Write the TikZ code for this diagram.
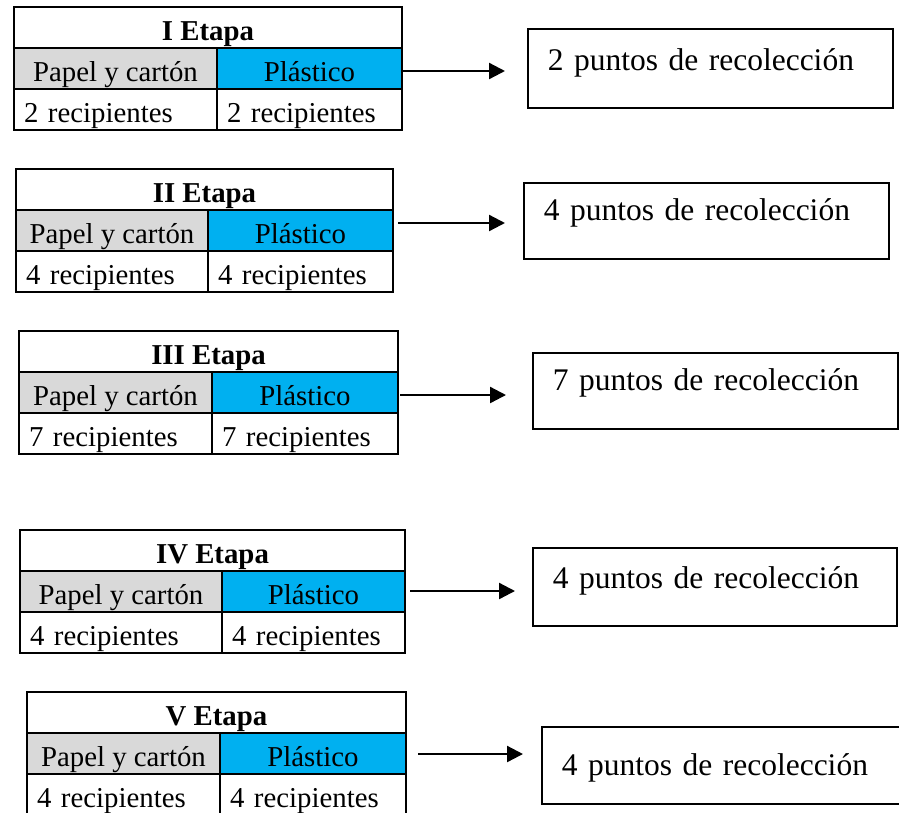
\documentclass[tikz,border=0pt]{standalone}
\usepackage{fontspec}
\setmainfont{Liberation Serif}
\usetikzlibrary{arrows.meta}
\definecolor{grisc}{HTML}{D9D9D9}
\definecolor{azulc}{HTML}{00B0F0}
\newcommand\tabfont{\fontsize{28.8pt}{34pt}\selectfont}
\newcommand\cajafont{\fontsize{31.5pt}{38pt}\selectfont}
\tikzset{
  cell/.style={draw=black, line width=2pt, anchor=north west, inner sep=0pt,
    text height=33pt, text depth=8pt, font=\tabfont},
  caja/.style={draw=black, line width=1.7pt, anchor=north west, inner ysep=0pt,
    align=left, font=\cajafont},
  arr/.style={line width=2.3pt, -{Triangle[length=16pt,width=16pt]}}
}
% #1 id, #2 left, #3 divider, #4 right, #5 top, #6 roman, #7 number
\newcommand\etapa[7]{%
  \pgfmathsetmacro\etWa{#3-#2}\pgfmathsetmacro\etWb{#4-#3}\pgfmathsetmacro\etWt{#4-#2}%
  \pgfmathsetmacro\etYa{#5+41}\pgfmathsetmacro\etYb{#5+82}%
  \pgfmathsetmacro\etTa{#3-#2-20}\pgfmathsetmacro\etTb{#4-#3-20}%
  \node[cell, font=\tabfont\bfseries, minimum width=\etWt pt] (hdr#1) at (#2,#5) {#6 Etapa};
  \node[cell, fill=grisc, minimum width=\etWa pt] (pap#1) at (#2,\etYa) {Papel y cartón};
  \node[cell, fill=azulc, minimum width=\etWb pt] (pla#1) at (#3,\etYa) {Plástico};
  \node[cell, inner xsep=10pt, text width=\etTa pt, align=left] (ra#1) at (#2,\etYb) {#7 recipientes};
  \node[cell, inner xsep=10pt, text width=\etTb pt, align=left] (rb#1) at (#3,\etYb) {#7 recipientes};
}
% #1 id, #2 left, #3 top, #4 right, #5 bottom, #6 baseline offset, #7 text
\newcommand\caja[7]{%
  \pgfmathsetmacro\cjW{#4-#2-40}\pgfmathsetmacro\cjD{#5-#3-#6}%
  \node[caja, inner xsep=20pt, text width=\cjW pt, text height=#6pt, text depth=\cjD pt] (box#1) at (#2,#3) {#7};
}
\begin{document}
\begin{tikzpicture}[x=1pt,y=-1pt]
\useasboundingbox (0,0) rectangle (899,812);
\etapa{I}{13}{216}{401}{6}{I}{2}
\etapa{II}{15}{207}{392}{168}{II}{4}
\etapa{III}{18}{211}{397}{330}{III}{7}
\etapa{IV}{19}{221}{404}{529}{IV}{4}
\etapa{V}{26}{219}{405}{691}{V}{4}
\caja{I}{527}{28}{892}{107}{42}{2 puntos de recolección}
\caja{II}{523}{182}{888}{258}{38}{4 puntos de recolección}
\caja{III}{532}{352}{897}{428}{38}{7 puntos de recolección}
\caja{IV}{532}{547}{896}{625}{41}{4 puntos de recolección}
\caja{V}{541}{726}{903}{803}{49}{4 puntos de recolección}
\coordinate (sI) at (401,71);   \coordinate (eI) at (505,71);
\coordinate (sII) at (398,223); \coordinate (eII) at (505,223);
\coordinate (sIII) at (400,395);\coordinate (eIII) at (506,395);
\coordinate (sIV) at (410,591); \coordinate (eIV) at (515,591);
\coordinate (sV) at (418,754);  \coordinate (eV) at (523,754);
\foreach \k in {I,II,III,IV,V} \draw[arr] (s\k) -- (e\k);
\end{tikzpicture}
\end{document}
